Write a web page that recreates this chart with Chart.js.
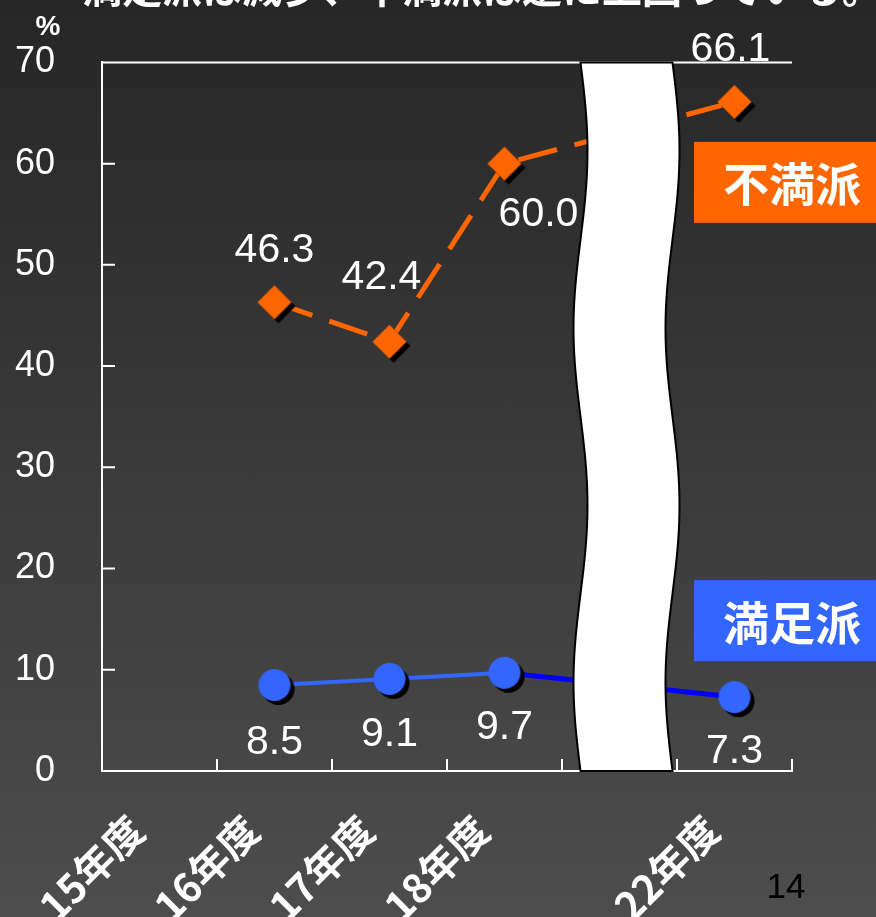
<!DOCTYPE html>
<html lang="ja">
<head>
<meta charset="utf-8">
<script src="https://cdn.jsdelivr.net/npm/chart.js@4.4.1/dist/chart.umd.min.js"></script>
<style>
  html, body { margin: 0; padding: 0; }
  body { width: 876px; height: 917px; overflow: hidden; background: linear-gradient(#262626, #4d4d4d); }
  #wrap { position: relative; width: 876px; height: 917px; }
</style>
</head>
<body>
<div id="wrap"><canvas id="trend"></canvas></div>
<script>
const years = ['15年度', '16年度', '17年度', '18年度', '', '22年度'];
const dissatisfied = [null, 46.3, 42.4, 60.0, null, 66.1];
const satisfied = [null, 8.5, 9.1, 9.7, null, 7.3];
const yTicks = [0, 10, 20, 30, 40, 50, 60, 70];
const seriesNames = ['不満派', '満足派'];
const headline = '満足派は減少、不満派は逆に上回っている。';
const unitLabel = '%';
const pageNo = '14';

const ORANGE = '#ff6600';
const BLUE = '#3366ff';
const DARK_BLUE = '#0000ff';
const breakIndex = 4;

// where each value label sits relative to its point (dx, dy)
const orangeLabelAt = [null, [0, -52], [-8, -64], [34, 51], null, [-4, -52]];
const blueLabelAt = [null, [0, 58], [0, 56], [0, 55], null, [0, 55]];

// marker image with a hard drop shadow to the lower right
function marker(shape, color, r, off) {
  const size = Math.ceil((r + off) * 2 + 2);
  const c = document.createElement('canvas');
  c.width = size; c.height = size;
  const g = c.getContext('2d');
  const m = size / 2;
  function path(cx, cy) {
    g.beginPath();
    if (shape === 'diamond') {
      g.moveTo(cx, cy - r); g.lineTo(cx + r, cy); g.lineTo(cx, cy + r); g.lineTo(cx - r, cy);
      g.closePath();
    } else {
      g.arc(cx, cy, r, 0, Math.PI * 2);
    }
  }
  path(m + off, m + off); g.fillStyle = '#000'; g.fill();
  path(m, m); g.fillStyle = color; g.fill();
  return c;
}

const diamondImg = marker('diamond', ORANGE, 17, 4);
const dotImg = marker('circle', BLUE, 16, 4);

const decorations = {
  id: 'decorations',
  afterDraw(chart) {
    const { ctx, chartArea: a, scales: { x, y } } = chart;
    ctx.save();

    // top frame line and inward tick marks
    ctx.strokeStyle = '#fff';
    ctx.lineWidth = 2;
    ctx.beginPath();
    ctx.moveTo(a.left, a.top); ctx.lineTo(a.right, a.top);
    yTicks.forEach(v => {
      const py = y.getPixelForValue(v);
      ctx.moveTo(a.left, py); ctx.lineTo(a.left + 13, py);
    });
    const step = (a.right - a.left) / years.length;
    for (let i = 1; i <= years.length; i++) {
      const px = Math.round(a.left + step * i);
      ctx.moveTo(px, a.bottom); ctx.lineTo(px, a.bottom - 12);
    }
    ctx.stroke();

    // wavy axis break
    const cx = x.getPixelForValue(breakIndex) + 7;
    const h = a.bottom - a.top;
    const wave = t => 7 * Math.sin(4 * Math.PI * t);
    ctx.beginPath();
    for (let k = 0; k <= 80; k++) {
      const t = k / 80;
      const px = cx - 46 + wave(t);
      k === 0 ? ctx.moveTo(px, a.top + t * h) : ctx.lineTo(px, a.top + t * h);
    }
    for (let k = 80; k >= 0; k--) {
      const t = k / 80;
      ctx.lineTo(cx + 46 + wave(t), a.top + t * h);
    }
    ctx.closePath();
    ctx.fillStyle = '#fff';
    ctx.fill();
    ctx.strokeStyle = '#000';
    ctx.lineWidth = 2;
    ctx.stroke();

    // value labels
    ctx.fillStyle = '#fff';
    ctx.font = '41px "Liberation Sans", Arial, sans-serif';
    ctx.textAlign = 'center';
    ctx.textBaseline = 'middle';
    [[dissatisfied, orangeLabelAt], [satisfied, blueLabelAt]].forEach(([vals, at]) => {
      vals.forEach((v, i) => {
        if (v === null) return;
        ctx.fillText(v.toFixed(1), x.getPixelForValue(i) + at[i][0], y.getPixelForValue(v) + at[i][1]);
      });
    });

    // series name boxes
    const boxes = [[seriesNames[0], ORANGE, 58.2], [seriesNames[1], BLUE, 14.9]];
    ctx.font = 'bold 46px "Noto Sans CJK JP", sans-serif';
    ctx.textAlign = 'left';
    boxes.forEach(([name, color, at]) => {
      const cy = y.getPixelForValue(at);
      ctx.fillStyle = color;
      ctx.fillRect(a.right - 98, cy - 40, chart.width - (a.right - 98), 81);
      ctx.fillStyle = '#fff';
      ctx.fillText(name, a.right - 69, cy + 2);
    });

    // unit, heading and page number
    ctx.textAlign = 'center';
    ctx.font = 'bold 28px "Liberation Sans", Arial, sans-serif';
    ctx.fillText(unitLabel, 48, 27);
    ctx.textAlign = 'left';
    ctx.textBaseline = 'ideographic';
    ctx.font = 'bold 40px "Noto Sans CJK JP", sans-serif';
    ctx.fillText(headline, 82, 8);
    ctx.fillStyle = '#000';
    ctx.textAlign = 'center';
    ctx.textBaseline = 'middle';
    ctx.font = '35px "Liberation Sans", Arial, sans-serif';
    ctx.fillText(pageNo, 786, 888);
    ctx.restore();
  }
};

new Chart(document.getElementById('trend'), {
  type: 'line',
  data: {
    labels: years,
    datasets: [
      {
        label: seriesNames[0],
        data: dissatisfied,
        borderColor: ORANGE,
        borderWidth: 5,
        borderDash: [40, 18],
        pointStyle: diamondImg,
        pointRadius: 17,
        spanGaps: true
      },
      {
        label: seriesNames[1],
        data: satisfied,
        borderColor: BLUE,
        borderWidth: 4,
        pointStyle: dotImg,
        pointRadius: 16,
        spanGaps: true,
        segment: {
          borderColor: c => c.p0DataIndex >= 3 ? DARK_BLUE : undefined,
          borderWidth: c => c.p0DataIndex >= 3 ? 5 : undefined
        }
      }
    ]
  },
  options: {
    responsive: true,
    maintainAspectRatio: false,
    animation: false,
    layout: { padding: { top: 62.4, right: 84, left: 0, bottom: 0 } },
    plugins: { legend: { display: false }, tooltip: { enabled: false } },
    scales: {
      x: {
        offset: true,
        grid: { display: false },
        border: { color: '#fff', width: 2 },
        ticks: {
          color: '#fff',
          font: { family: '"Noto Sans CJK JP", sans-serif', size: 40, weight: 'bold' },
          minRotation: 45,
          maxRotation: 45,
          autoSkip: false,
          labelOffset: -23,
          padding: 27
        },
        afterFit: s => { s.height = 146; }
      },
      y: {
        min: yTicks[0],
        max: yTicks[yTicks.length - 1],
        grid: { display: false },
        border: { color: '#fff', width: 2 },
        ticks: {
          stepSize: yTicks[1] - yTicks[0],
          color: '#fff',
          font: { family: '"Liberation Sans", Arial, sans-serif', size: 36 },
          padding: 39
        },
        afterFit: s => { s.width = 102; }
      }
    }
  },
  plugins: [decorations]
});
</script>
</body>
</html>
